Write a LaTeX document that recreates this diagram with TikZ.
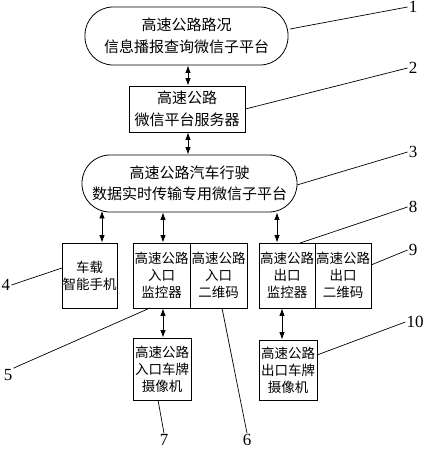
\documentclass[tikz,border=0pt]{standalone}
\usepackage{fontspec}
\setmainfont{Liberation Serif}
\newfontfamily\cjk{Noto Sans CJK SC}
\usetikzlibrary{arrows.meta}
\begin{document}
\begin{tikzpicture}[x=1pt,y=-1pt,
  pill/.style={draw,line width=0.8pt,rounded corners=28pt,align=center,inner sep=0pt,
    font=\cjk\fontsize{15}{21.5}\selectfont},
  sbox/.style={draw,line width=0.8pt,align=center,inner sep=0pt,
    font=\cjk\fontsize{15}{22}\selectfont},
  cbox/.style={draw,line width=0.8pt,align=center,inner sep=0pt,
    font=\cjk\fontsize{13.5}{17}\selectfont},
  lab/.style={inner sep=1pt,font=\fontsize{17}{17}\selectfont},
  dbl/.style={arrows={Latex[length=7.5pt,width=5.5pt]-Latex[length=7.5pt,width=5.5pt]},line width=0.8pt},
  lead/.style={line width=0.7pt}]
\useasboundingbox (0,0) rectangle (427,450);
% main boxes
\node[pill,minimum width=203pt,minimum height=58pt] (b1) at (186.5,36) {高速公路路况\\信息播报查询微信子平台};
\node[sbox,minimum width=116pt,minimum height=46pt] (b2) at (187,109) {高速公路\\微信平台服务器};
\node[pill,minimum width=215pt,minimum height=57pt] (b3) at (189.5,183.5) {高速公路汽车行驶\\数据实时传输专用微信子平台};
\node[cbox,minimum width=55pt,minimum height=65pt] (b4) at (89.5,275.5) {车载\\智能手机};
\node[cbox,minimum width=57pt,minimum height=65pt] (b5) at (161.5,275.5) {高速公路\\入口\\监控器};
\node[cbox,minimum width=57pt,minimum height=65pt] (b6) at (218.5,275.5) {高速公路\\入口\\二维码};
\node[cbox,minimum width=56pt,minimum height=65pt] (b8) at (287,275.5) {高速公路\\出口\\监控器};
\node[cbox,minimum width=56pt,minimum height=65pt] (b9) at (343,275.5) {高速公路\\出口\\二维码};
\node[cbox,minimum width=58pt,minimum height=62pt] (b7) at (162,369) {高速公路\\入口车牌\\摄像机};
\node[cbox,minimum width=58pt,minimum height=60pt] (b10) at (288,370) {高速公路\\出口车牌\\摄像机};
% arrows
\draw[dbl] ([xshift=1pt]b2.north) -- ([xshift=1pt]b2.north |- b1.south);
\draw[dbl] ([xshift=1pt]b2.south) -- ([xshift=1pt]b2.south |- b3.north);
\draw[dbl] ([xshift=12.5pt]b4.north) -- ([xshift=12.5pt,yshift=1.5pt]b4.north |- b3.south);
\draw[dbl] ([xshift=1.5pt]b5.north) -- ([xshift=1.5pt]b5.north |- b3.south);
\draw[dbl] ([xshift=-10pt]b8.north) -- ([xshift=-10pt]b8.north |- b3.south);
\draw[dbl] ([xshift=1pt]b7.north) -- ([xshift=1pt]b7.north |- b5.south);
\draw[dbl] ([xshift=-6pt]b10.north) -- ([xshift=-6pt]b10.north |- b8.south);
% labels
\node[lab] (l1) at (413,7) {1};
\node[lab] (l2) at (413,68) {2};
\node[lab] (l3) at (413,152) {3};
\node[lab] (l8) at (413,207) {8};
\node[lab] (l9) at (413,250) {9};
\node[lab] (l10) at (415,322) {10};
\node[lab] (l4) at (6,285) {4};
\node[lab] (l5) at (8,375) {5};
\node[lab] (l6) at (247,440) {6};
\node[lab] (l7) at (164,440) {7};
% leader lines
\coordinate (c1) at (290,29);
\coordinate (c2) at (b2.east);
\coordinate (c3) at (297,185);
\coordinate (c8) at (300,243);
\coordinate (c9) at (371,265);
\coordinate (c10) at (317,355);
\coordinate (c4) at (62,268);
\coordinate (c5) at (150,308);
\coordinate (c6) at (222,308);
\coordinate (c7) at (158,400);
\draw[lead] (c1) -- (l1.west);
\draw[lead] (c2) -- (l2.west);
\draw[lead] (c3) -- (l3.west);
\draw[lead] (c8) -- (l8.west);
\draw[lead] (c9) -- (l9.west);
\draw[lead] (c10) -- (l10.west);
\draw[lead] (c4) -- (l4.east);
\draw[lead] (c5) -- (l5.north east);
\draw[lead] (c6) -- (l6.north);
\draw[lead] (c7) -- (l7.north);
\end{tikzpicture}
\end{document}
